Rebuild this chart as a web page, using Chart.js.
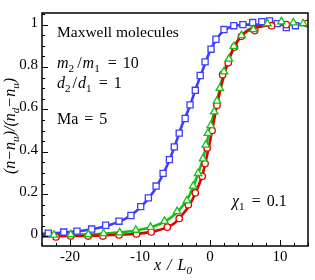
<!DOCTYPE html>
<html><head><meta charset="utf-8">
<script src="https://cdn.jsdelivr.net/npm/chart.js@4.4.0/dist/chart.umd.min.js"></script>
<style>html,body{margin:0;padding:0;background:#fff}#w{width:315px;height:280px;position:relative}</style>
</head><body><div id="w"><canvas id="c" width="315" height="280"></canvas></div>
<script>
// ---- data ----
const xTicks = [-20, -10, 0, 10];
const yTicks = [0, 0.2, 0.4, 0.6, 0.8, 1];

// blue: symbols (squares) and solid curve
const blueSymX = [-23.1,-20.9,-19.0,-16.9,-14.9,-13.0,-11.3,-9.9,-8.8,-7.7,-6.7,-5.8,-5.1,-4.4,-3.55,-2.85,-2.1,-1.4,-0.7,0.15,0.85,2.0,3.4,4.7,6.1,7.4,8.5,9.6,10.9,12.2];
const blueSymY = [0.016,0.021,0.025,0.035,0.053,0.072,0.099,0.141,0.182,0.238,0.298,0.363,0.423,0.488,0.557,0.621,0.690,0.760,0.824,0.884,0.931,0.977,0.995,1.0,1.01,1.014,1.018,1.005,0.986,0.995];
const blueLineX = [-24,-22,-20,-18,-16,-14,-12,-10,-8,-7,-6,-5,-4,-3,-2,-1,0,1,2,3,4,5,6,8,10,12,14];
const blueLineY = [0.012,0.016,0.021,0.028,0.040,0.058,0.085,0.135,0.215,0.275,0.345,0.43,0.525,0.605,0.70,0.79,0.875,0.935,0.972,0.99,0.997,1.0,1.0,1.0,1.0,1.0,1.0];

// green: symbols (triangles) and solid curve
const greenSymX = [-22.3,-19.9,-17.4,-15.2,-12.9,-10.6,-8.5,-6.5,-4.7,-3.3,-2.4,-1.7,-1.0,-0.6,-0.3,0.1,0.6,1.0,1.4,2.0,2.7,3.4,4.5,6.2,8.2,10.2,11.9,13.3];
const greenSymY = [0.007,0.009,0.009,0.014,0.018,0.030,0.044,0.072,0.118,0.169,0.238,0.298,0.367,0.432,0.487,0.524,0.589,0.640,0.700,0.778,0.838,0.898,0.949,0.977,1.005,1.014,1.009,1.005];
const greenLineX = [-24,-20,-16,-12,-10,-8,-6,-5,-4,-3,-2,-1,0,1,2,3,4,5,6,8,10,14];
const greenLineY = [0.005,0.008,0.012,0.022,0.032,0.048,0.08,0.105,0.14,0.19,0.27,0.367,0.51,0.64,0.778,0.865,0.928,0.965,0.985,0.998,1.0,1.0];

// red: symbols (circles) and solid curve
const redSymX = [-22.0,-19.9,-17.4,-15.3,-13.0,-10.5,-8.4,-6.1,-4.4,-3.1,-2.1,-1.1,-0.7,-0.4,0.3,1.0,1.8,2.6,3.5,4.5,6.4,8.8,10.9,13.8];
const redSymY = [-0.002,0.002,0.002,0.002,0.007,0.012,0.021,0.044,0.085,0.150,0.206,0.284,0.344,0.418,0.50,0.62,0.764,0.82,0.894,0.945,0.972,0.995,1.0,1.005];
const redLineX = [-24,-20,-16,-12,-10,-8,-6,-5,-4,-3,-2,-1,0,1,2,3,4,5,6,8,10,14];
const redLineY = [0.0,0.002,0.004,0.009,0.014,0.024,0.045,0.065,0.10,0.145,0.21,0.30,0.45,0.62,0.76,0.86,0.925,0.962,0.98,0.995,1.0,1.0];

const BLUE = '#3c3cff', RED = '#e00000', GREEN = '#14c014';
const SERIF = '"Liberation Serif", "Times New Roman", serif';

const pts = (xs, ys) => xs.map((x, i) => ({x, y: ys[i]}));

function drawRuns(ctx, x, y, runs, size) {
  let cx = x;
  for (const r of runs) {
    const s = r.sub ? size * 0.7 : size;
    ctx.font = (r.it ? 'italic ' : '') + s + 'px ' + SERIF;
    cx += (r.dx || 0);
    ctx.fillText(r.t, cx, y + (r.sub ? size * 0.22 : 0));
    cx += ctx.measureText(r.t).width + (r.ax || 0);
  }
  return cx - x;
}
function runsWidth(ctx, runs, size) {
  let w = 0;
  for (const r of runs) {
    const s = r.sub ? size * 0.7 : size;
    ctx.font = (r.it ? 'italic ' : '') + s + 'px ' + SERIF;
    w += ctx.measureText(r.t).width + (r.dx || 0) + (r.ax || 0);
  }
  return w;
}

const decor = {
  id: 'decor',
  afterDatasetsDraw(chart) {
    const {ctx, chartArea: a, scales: {x, y}} = chart;
    ctx.save();
    ctx.strokeStyle = '#000';
    ctx.lineWidth = 1.5;
    ctx.strokeRect(a.left, a.top, a.right - a.left, a.bottom - a.top);
    ctx.lineWidth = 1;
    ctx.beginPath();
    for (let v = -24; v <= 14; v += 2) {
      const px = Math.round(x.getPixelForValue(v)) + 0.5;
      const len = xTicks.includes(v) ? 6 : 3;
      ctx.moveTo(px, a.bottom); ctx.lineTo(px, a.bottom - len);
    }
    for (let k = 0; k <= 21; k++) {
      const v = k * 0.05;
      const py = Math.round(y.getPixelForValue(v)) + 0.5;
      const len = (k % 4 === 0) ? 6 : 3;
      ctx.moveTo(a.left, py); ctx.lineTo(a.left + len, py);
    }
    ctx.stroke();

    // annotations
    ctx.fillStyle = '#000';
    ctx.textBaseline = 'alphabetic';
    ctx.textAlign = 'left';
    const S = 16;
    drawRuns(ctx, 57, 37, [{t: 'Maxwell molecules'}], 15.5);
    drawRuns(ctx, 57, 68, [{t: 'm', it: 1}, {t: '2', sub: 1, ax: 2}, {t: '/', dx: 1, ax: 1}, {t: 'm', it: 1}, {t: '1', sub: 1, ax: 2}, {t: '=', dx: 6}, {t: '10', dx: 6}], S);
    drawRuns(ctx, 57, 88, [{t: 'd', it: 1}, {t: '2', sub: 1, ax: 1}, {t: '/', dx: 1, ax: 1}, {t: 'd', it: 1}, {t: '1', sub: 1, ax: 1}, {t: '=', dx: 6}, {t: '1', dx: 6}], S);
    drawRuns(ctx, 57, 124, [{t: 'Ma'}, {t: '=', dx: 6}, {t: '5', dx: 6}], S);
    drawRuns(ctx, 232, 206, [{t: '\u03c7', it: 1}, {t: '1', sub: 1, ax: 1}, {t: '=', dx: 6}, {t: '0.1', dx: 6}], S);

    // x axis title
    drawRuns(ctx, 154, 270, [{t: 'x', it: 1}, {t: '/', it: 1, dx: 6}, {t: 'L', it: 1, dx: 6}, {t: '0', it: 1, sub: 1}], 16);

    // y axis title (rotated)
    const yr = [{t: '(n', it: 1}, {t: '\u2212', it: 1}, {t: 'n', it: 1}, {t: 'u', it: 1, sub: 1}, {t: ')/(n', it: 1}, {t: 'd', it: 1, sub: 1}, {t: '\u2212', it: 1}, {t: 'n', it: 1}, {t: 'u', it: 1, sub: 1}, {t: ')', it: 1}];
    const w = runsWidth(ctx, yr, 16);
    ctx.translate(15, 126);
    ctx.rotate(-Math.PI / 2);
    drawRuns(ctx, -w / 2, 0, yr, 16);
    ctx.restore();
  }
};

const lineDs = (xs, ys, col) => ({
  type: 'line', data: pts(xs, ys), borderColor: col, borderWidth: 2.6,
  pointRadius: 0, cubicInterpolationMode: 'monotone', fill: false, order: 10
});
const symDs = (xs, ys, col, style, r, ord) => ({
  type: 'line', data: pts(xs, ys), showLine: false, borderColor: col,
  backgroundColor: '#fff', pointBackgroundColor: '#fff', pointBorderColor: col,
  pointBorderWidth: 1.3, pointStyle: style, pointRadius: r, order: ord
});

new Chart(document.getElementById('c'), {
  data: {
    datasets: [
      lineDs(blueLineX, blueLineY, BLUE),
      lineDs(redLineX, redLineY, RED),
      lineDs(greenLineX, greenLineY, GREEN),
      symDs(blueSymX, blueSymY, BLUE, 'rect', 4.3, 3),
      symDs(redSymX, redSymY, RED, 'circle', 3.2, 2),
      symDs(greenSymX, greenSymY, GREEN, 'triangle', 4.3, 1)
    ]
  },
  options: {
    responsive: false, animation: false, devicePixelRatio: 1,
    layout: {padding: {top: 8, right: 7, left: 0, bottom: 0}},
    plugins: {legend: {display: false}, tooltip: {enabled: false}},
    scales: {
      x: {
        type: 'linear', min: -24, max: 14,
        afterBuildTicks: s => { s.ticks = xTicks.map(v => ({value: v})); },
        afterFit: s => { s.height = 34; },
        grid: {display: false, drawTicks: false}, border: {display: false},
        ticks: {color: '#000', font: {family: SERIF, size: 15}, padding: 2, maxRotation: 0}
      },
      y: {
        type: 'linear', min: -0.045, max: 1.055,
        afterBuildTicks: s => { s.ticks = yTicks.map(v => ({value: v})); },
        afterFit: s => { s.width = 42; },
        grid: {display: false, drawTicks: false}, border: {display: false},
        ticks: {color: '#000', font: {family: SERIF, size: 15}, padding: 4, labelOffset: -2,
                callback: v => (v === 0 ? '0' : v === 1 ? '1' : v.toFixed(1))}
      }
    }
  },
  plugins: [decor]
});
</script>
</body></html>
